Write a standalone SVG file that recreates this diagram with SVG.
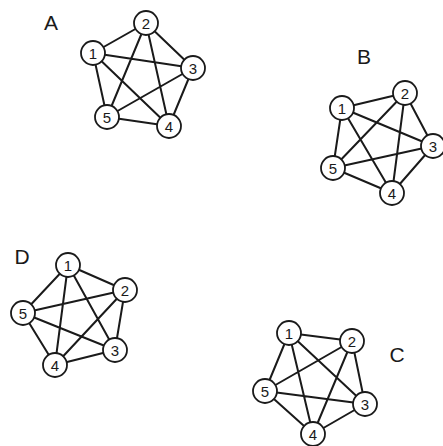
<svg xmlns="http://www.w3.org/2000/svg" width="443" height="446" viewBox="0 0 443 446">
<style>
.e{stroke:#1a1a1a;stroke-width:2;fill:none}
.n circle{fill:#fff;stroke:#1a1a1a;stroke-width:1.8}
.n text{font-family:"Liberation Sans",Arial,sans-serif;font-size:15px;text-anchor:middle;fill:#1a1a1a}
.lbl{font-family:"Liberation Sans",Arial,sans-serif;font-size:21px;text-anchor:middle;fill:#1a1a1a}
</style>
<rect width="443" height="446" fill="#fff"/>
<g id="connectors">
<path class="e" d="M93,53L146,23M146,23L193,68M193,68L169,126M169,126L107,117M107,117L93,53M93,53L193,68M93,53L169,126M146,23L107,117M146,23L169,126M193,68L107,117"/>
<path class="e" d="M342,108L405,93M405,93L433,146M433,146L392,193M392,193L333,168M333,168L342,108M342,108L433,146M342,108L392,193M405,93L333,168M405,93L392,193M433,146L333,168"/>
<path class="e" d="M289,333L352,341M352,341L365,404M365,404L313,434M313,434L265,391M265,391L289,333M289,333L365,404M289,333L313,434M352,341L265,391M352,341L313,434M365,404L265,391"/>
<path class="e" d="M68,265L125,290M125,290L115,350M115,350L55,365M55,365L23,313M23,313L68,265M68,265L115,350M68,265L55,365M125,290L23,313M125,290L55,365M115,350L23,313"/>
</g>
<g id="labels">
<text class="lbl" x="51" y="30">A</text>
<text class="lbl" x="364" y="64">B</text>
<text class="lbl" x="397" y="362">C</text>
<text class="lbl" x="22" y="264">D</text>
</g>
<g id="A1" class="n"><circle cx="93" cy="53" r="12"/><text x="93" y="58.5">1</text></g>
<g id="A2" class="n"><circle cx="146" cy="23" r="12"/><text x="146" y="28.5">2</text></g>
<g id="A3" class="n"><circle cx="193" cy="68" r="12"/><text x="193" y="73.5">3</text></g>
<g id="A4" class="n"><circle cx="169" cy="126" r="12"/><text x="169" y="131.5">4</text></g>
<g id="A5" class="n"><circle cx="107" cy="117" r="12"/><text x="107" y="122.5">5</text></g>
<g id="B1" class="n"><circle cx="342" cy="108" r="12"/><text x="342" y="113.5">1</text></g>
<g id="B2" class="n"><circle cx="405" cy="93" r="12"/><text x="405" y="98.5">2</text></g>
<g id="B3" class="n"><circle cx="433" cy="146" r="12"/><text x="433" y="151.5">3</text></g>
<g id="B4" class="n"><circle cx="392" cy="193" r="12"/><text x="392" y="198.5">4</text></g>
<g id="B5" class="n"><circle cx="333" cy="168" r="12"/><text x="333" y="173.5">5</text></g>
<g id="C1" class="n"><circle cx="289" cy="333" r="12"/><text x="289" y="338.5">1</text></g>
<g id="C2" class="n"><circle cx="352" cy="341" r="12"/><text x="352" y="346.5">2</text></g>
<g id="C3" class="n"><circle cx="365" cy="404" r="12"/><text x="365" y="409.5">3</text></g>
<g id="C4" class="n"><circle cx="313" cy="434" r="12"/><text x="313" y="439.5">4</text></g>
<g id="C5" class="n"><circle cx="265" cy="391" r="12"/><text x="265" y="396.5">5</text></g>
<g id="D1" class="n"><circle cx="68" cy="265" r="12"/><text x="68" y="270.5">1</text></g>
<g id="D2" class="n"><circle cx="125" cy="290" r="12"/><text x="125" y="295.5">2</text></g>
<g id="D3" class="n"><circle cx="115" cy="350" r="12"/><text x="115" y="355.5">3</text></g>
<g id="D4" class="n"><circle cx="55" cy="365" r="12"/><text x="55" y="370.5">4</text></g>
<g id="D5" class="n"><circle cx="23" cy="313" r="12"/><text x="23" y="318.5">5</text></g>
</svg>
